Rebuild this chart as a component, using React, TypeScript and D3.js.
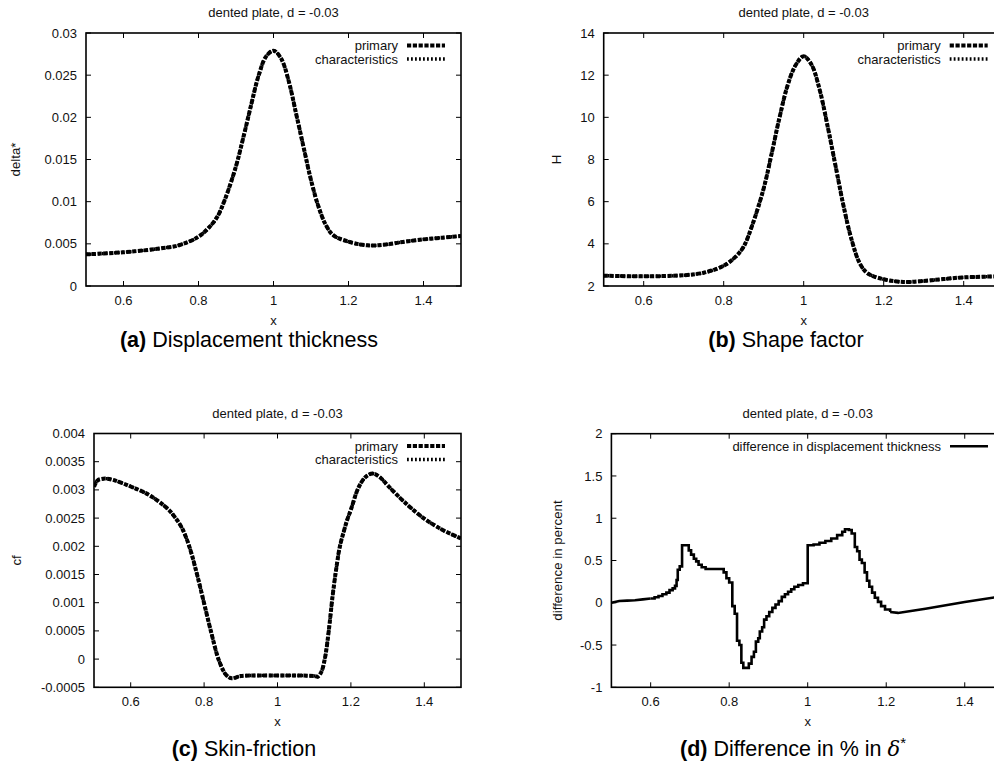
import React from "react";
import * as d3 from "d3";

// ---------------- data ----------------
const X_DOMAIN: [number, number] = [0.5, 1.5];
const xTicks = [0.6, 0.8, 1, 1.2, 1.4];
const xTickLabels = ["0.6", "0.8", "1", "1.2", "1.4"];

// (a) displacement thickness
const deltaX = [0.5, 0.6, 0.7, 0.75, 0.8, 0.83, 0.85, 0.87, 0.9, 0.92, 0.94, 0.96, 0.98, 1.0, 1.02, 1.04, 1.06, 1.08, 1.1, 1.12, 1.14, 1.16, 1.2, 1.25, 1.3, 1.35, 1.4, 1.45, 1.5];
const deltaY = [0.00375, 0.004, 0.00447, 0.00486, 0.00585, 0.00704, 0.0082, 0.0102, 0.0142, 0.0177, 0.0214, 0.0249, 0.0272, 0.0279, 0.027, 0.0244, 0.0205, 0.0165, 0.01257, 0.0094, 0.0072, 0.006, 0.00526, 0.00482, 0.00492, 0.00526, 0.00553, 0.00573, 0.00593];
const deltaTicks = [0, 0.005, 0.01, 0.015, 0.02, 0.025, 0.03];
const deltaTickLabels = ["0", "0.005", "0.01", "0.015", "0.02", "0.025", "0.03"];

// (b) shape factor
const hX = [0.5, 0.6, 0.7, 0.75, 0.8, 0.83, 0.85, 0.87, 0.9, 0.92, 0.94, 0.96, 0.98, 1.0, 1.02, 1.04, 1.06, 1.08, 1.1, 1.12, 1.14, 1.16, 1.2, 1.25, 1.3, 1.35, 1.4, 1.45, 1.5];
const hY = [2.49, 2.46, 2.51, 2.63, 2.96, 3.39, 3.87, 4.81, 6.63, 8.29, 10.03, 11.53, 12.48, 12.9, 12.48, 11.3, 9.56, 7.66, 5.76, 4.18, 3.08, 2.6, 2.32, 2.19, 2.24, 2.33, 2.41, 2.44, 2.47];
const hTicks = [2, 4, 6, 8, 10, 12, 14];
const hTickLabels = ["2", "4", "6", "8", "10", "12", "14"];

// (c) skin friction
const cfX = [0.5, 0.51, 0.53, 0.55, 0.6, 0.65, 0.7, 0.72, 0.74, 0.76, 0.78, 0.8, 0.82, 0.84, 0.86, 0.875, 0.9, 0.95, 1.0, 1.05, 1.1, 1.11, 1.12, 1.13, 1.14, 1.15, 1.16, 1.17, 1.18, 1.19, 1.2, 1.22, 1.24, 1.26, 1.28, 1.3, 1.35, 1.4, 1.45, 1.5];
const cfY = [0.003055, 0.00317, 0.0032, 0.00318, 0.00306, 0.00291, 0.00267, 0.00252, 0.00232, 0.00199, 0.00152, 0.00099, 0.000456, -0.000016, -0.00028, -0.00034, -0.0003, -0.00029, -0.00029, -0.00029, -0.0003, -0.00031, -0.00022, 0.000043, 0.00052, 0.00111, 0.0016, 0.002, 0.00225, 0.00247, 0.00265, 0.00303, 0.00323, 0.00329, 0.00322, 0.00308, 0.00276, 0.00249, 0.00229, 0.00214];
const cfTicks = [-0.0005, 0, 0.0005, 0.001, 0.0015, 0.002, 0.0025, 0.003, 0.0035, 0.004];
const cfTickLabels = ["-0.0005", "0", "0.0005", "0.001", "0.0015", "0.002", "0.0025", "0.003", "0.0035", "0.004"];

// (d) difference in percent (stepped between STEP_FROM and STEP_TO)
const diffX = [0.5, 0.52, 0.54, 0.56, 0.58, 0.6, 0.61, 0.62, 0.63, 0.64, 0.648, 0.656, 0.662, 0.666, 0.669, 0.674, 0.68, 0.697, 0.703, 0.71, 0.716, 0.722, 0.73, 0.74, 0.786, 0.793, 0.8, 0.808, 0.814, 0.82, 0.826, 0.831, 0.836, 0.85, 0.857, 0.863, 0.868, 0.874, 0.878, 0.884, 0.889, 0.895, 0.902, 0.91, 0.918, 0.926, 0.934, 0.942, 0.95, 0.958, 0.966, 0.976, 0.988, 1.0, 1.015, 1.03, 1.045, 1.06, 1.075, 1.088, 1.095, 1.105, 1.112, 1.12, 1.126, 1.132, 1.138, 1.145, 1.151, 1.157, 1.164, 1.171, 1.179, 1.187, 1.197, 1.21, 1.23, 1.3, 1.4, 1.5];
const diffY = [0.0, 0.02, 0.025, 0.03, 0.04, 0.05, 0.065, 0.08, 0.1, 0.12, 0.15, 0.17, 0.2, 0.27, 0.39, 0.43, 0.68, 0.62, 0.57, 0.52, 0.49, 0.45, 0.42, 0.4, 0.36, 0.29, 0.24, -0.04, -0.13, -0.45, -0.5, -0.71, -0.77, -0.72, -0.64, -0.58, -0.46, -0.42, -0.34, -0.29, -0.2, -0.16, -0.11, -0.06, -0.02, 0.02, 0.07, 0.1, 0.13, 0.16, 0.19, 0.21, 0.23, 0.68, 0.69, 0.71, 0.73, 0.76, 0.8, 0.84, 0.87, 0.86, 0.82, 0.66, 0.61, 0.51, 0.47, 0.36, 0.26, 0.19, 0.12, 0.06, 0.01, -0.04, -0.08, -0.11, -0.12, -0.07, 0.01, 0.08];
const STEP_FROM = 0.6;
const STEP_TO = 1.21;
const diffTicks = [-1, -0.5, 0, 0.5, 1, 1.5, 2];
const diffTickLabels = ["-1", "-0.5", "0", "0.5", "1", "1.5", "2"];

const TITLE = "dented plate, d = -0.03";

// ---------------- rendering ----------------
const FONT = "'Liberation Sans', Arial, Helvetica, sans-serif";
const INK = "#111";

type Seg = { xs: number[]; ys: number[]; curve: any; width: number; dash?: string };
type Legend = { label: string; width: number; dash?: string }[];

type PanelProps = {
  id: string;
  L: number; R: number; T: number; B: number;
  yDomain: [number, number];
  yTicks: number[];
  yTickLabels: string[];
  ylabel: string;
  ylabelX: number;
  segs: Seg[];
  legend: Legend;
  caption: React.ReactNode;
  captionX: number;
  captionY: number;
};

function Panel(p: PanelProps) {
  const x = d3.scaleLinear().domain(X_DOMAIN).range([p.L, p.R]);
  const y = d3.scaleLinear().domain(p.yDomain).range([p.B, p.T]);
  const tl = 5;
  const clipId = "clip-" + p.id;
  const cx = (p.L + p.R) / 2;
  const cy = (p.T + p.B) / 2;
  return (
    <g fontFamily={FONT} fill={INK}>
      <defs>
        <clipPath id={clipId}>
          <rect x={p.L} y={p.T} width={p.R - p.L} height={p.B - p.T} />
        </clipPath>
      </defs>
      <text x={cx} y={p.T - 16} textAnchor="middle" fontSize={13}>{TITLE}</text>
      {xTicks.map((t, i) => (
        <g key={"x" + i}>
          <line x1={x(t)} x2={x(t)} y1={p.B} y2={p.B - tl} stroke="#000" strokeWidth={1} />
          <line x1={x(t)} x2={x(t)} y1={p.T} y2={p.T + tl} stroke="#000" strokeWidth={1} />
          <text x={x(t)} y={p.B + 19} textAnchor="middle" fontSize={13}>{xTickLabels[i]}</text>
        </g>
      ))}
      {p.yTicks.map((t, i) => (
        <g key={"y" + i}>
          <line x1={p.L} x2={p.L + tl} y1={y(t)} y2={y(t)} stroke="#000" strokeWidth={1} />
          <line x1={p.R} x2={p.R - tl} y1={y(t)} y2={y(t)} stroke="#000" strokeWidth={1} />
          <text x={p.L - 9} y={y(t)} dy="0.35em" textAnchor="end" fontSize={13}>{p.yTickLabels[i]}</text>
        </g>
      ))}
      <text x={cx} y={p.B + 39} textAnchor="middle" fontSize={13}>x</text>
      <text
        transform={`translate(${p.ylabelX},${cy}) rotate(-90)`}
        textAnchor="middle"
        dy="0.35em"
        fontSize={13.3}
      >
        {p.ylabel}
      </text>
      <g clipPath={`url(#${clipId})`}>
        {p.segs.map((s, i) => {
          const pts = s.xs.map((v, k) => [v, s.ys[k]] as [number, number]);
          const d = d3
            .line<[number, number]>()
            .x((q) => x(q[0]))
            .y((q) => y(q[1]))
            .curve(s.curve)(pts) as string;
          return (
            <path
              key={i}
              d={d}
              fill="none"
              stroke="#000"
              strokeWidth={s.width}
              strokeDasharray={s.dash}
              strokeLinejoin="miter"
            />
          );
        })}
      </g>
      <rect x={p.L} y={p.T} width={p.R - p.L} height={p.B - p.T} fill="none" stroke="#000" strokeWidth={1.6} />
      {p.legend.map((lg, i) => {
        const ly = p.T + 12.5 + i * 13.5;
        return (
          <g key={"lg" + i}>
            <text x={p.R - 63} y={ly} dy="0.35em" textAnchor="end" fontSize={13}>{lg.label}</text>
            <line x1={p.R - 54} x2={p.R - 16} y1={ly} y2={ly} stroke="#000" strokeWidth={lg.width} strokeDasharray={lg.dash} />
          </g>
        );
      })}
      <text x={p.captionX} y={p.captionY} textAnchor="middle" fontSize={21.5} fill="#000">
        {p.caption}
      </text>
    </g>
  );
}

const PRIMARY = { width: 4, dash: "4.2 1.6" };
const CHARS = { width: 3.4, dash: "1.8 2.2" };

function dualSegs(xs: number[], ys: number[]): Seg[] {
  const curve = d3.curveCatmullRom.alpha(0.5);
  return [
    { xs, ys, curve, width: PRIMARY.width, dash: PRIMARY.dash },
    { xs, ys, curve, width: CHARS.width, dash: CHARS.dash },
  ];
}

const dualLegend: Legend = [
  { label: "primary", width: PRIMARY.width, dash: PRIMARY.dash },
  { label: "characteristics", width: CHARS.width, dash: CHARS.dash },
];

function diffSegs(): Seg[] {
  const idx = diffX.map((_, i) => i);
  const left = idx.filter((i) => diffX[i] <= STEP_FROM);
  const mid = idx.filter((i) => diffX[i] >= STEP_FROM && diffX[i] <= STEP_TO);
  const right = idx.filter((i) => diffX[i] >= STEP_TO);
  const pick = (ids: number[], curve: any): Seg => ({
    xs: ids.map((i) => diffX[i]),
    ys: ids.map((i) => diffY[i]),
    curve,
    width: 2.6,
  });
  return [pick(left, d3.curveLinear), pick(mid, d3.curveStepAfter), pick(right, d3.curveLinear)];
}

export default function App() {
  return (
    <div style={{ position: "absolute", left: 0, top: 0, width: 994, height: 767, overflow: "hidden", background: "#fff" }}>
      <svg width={994} height={767} viewBox="0 0 994 767" style={{ display: "block" }}>
        <rect x={0} y={0} width={994} height={767} fill="#fff" />
        <Panel
          id="a" L={86} R={461} T={33} B={286}
          yDomain={[0, 0.03]} yTicks={deltaTicks} yTickLabels={deltaTickLabels}
          ylabel="delta*" ylabelX={15}
          segs={dualSegs(deltaX, deltaY)} legend={dualLegend}
          caption={<><tspan fontWeight="bold">(a)</tspan>{" Displacement thickness"}</>}
          captionX={249} captionY={347}
        />
        <Panel
          id="b" L={603.7} R={1003.7} T={33} B={286}
          yDomain={[2, 14]} yTicks={hTicks} yTickLabels={hTickLabels}
          ylabel="H" ylabelX={556.5}
          segs={dualSegs(hX, hY)} legend={dualLegend}
          caption={<><tspan fontWeight="bold">(b)</tspan>{" Shape factor"}</>}
          captionX={786} captionY={347}
        />
        <Panel
          id="c" L={94} R={461} T={433.5} B={687.3}
          yDomain={[-0.0005, 0.004]} yTicks={cfTicks} yTickLabels={cfTickLabels}
          ylabel="cf" ylabelX={16}
          segs={dualSegs(cfX, cfY)} legend={dualLegend}
          caption={<><tspan fontWeight="bold">(c)</tspan>{" Skin-friction"}</>}
          captionX={244} captionY={756}
        />
        <Panel
          id="d" L={611.4} R={1004} T={433.7} B={687.3}
          yDomain={[-1, 2]} yTicks={diffTicks} yTickLabels={diffTickLabels}
          ylabel="difference in percent" ylabelX={557}
          segs={diffSegs()}
          legend={[{ label: "difference in displacement thickness", width: 2.6 }]}
          caption={
            <>
              <tspan fontWeight="bold">(d)</tspan>
              {" Difference in % in "}
              <tspan fontFamily="'DejaVu Serif', 'Liberation Serif', serif" fontStyle="italic" fontSize={21}>δ</tspan>
              <tspan fontSize={15} dy={-8}>*</tspan>
            </>
          }
          captionX={793} captionY={756}
        />
      </svg>
    </div>
  );
}
